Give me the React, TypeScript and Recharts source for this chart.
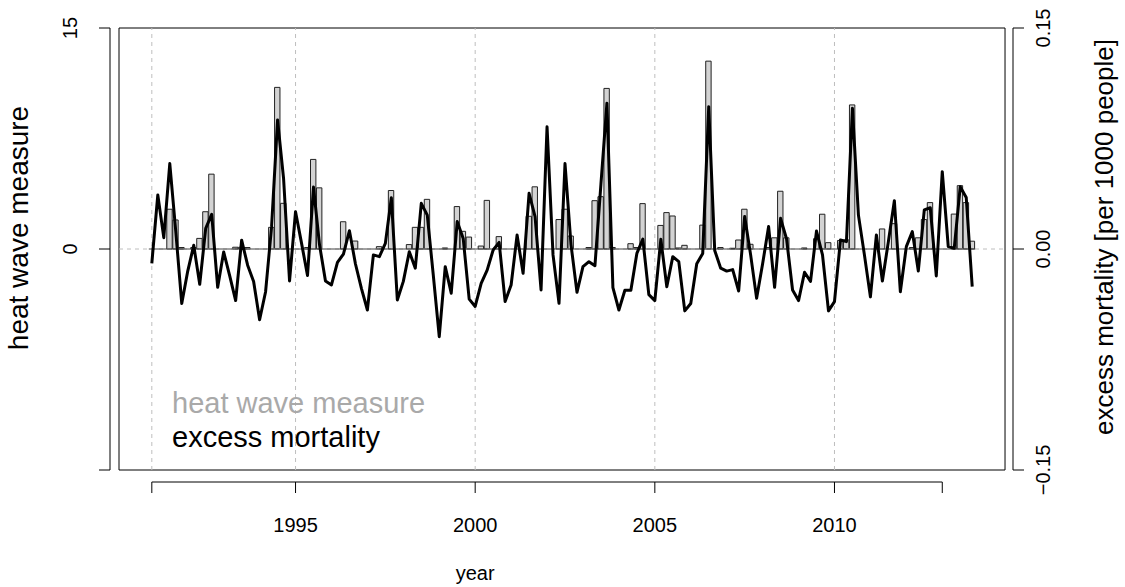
import React from 'react';
import {
  ComposedChart,
  Bar,
  Line,
  XAxis,
  YAxis,
  ReferenceLine,
  ReferenceArea,
  Legend,
} from 'recharts';

const FONT = '"Liberation Sans", Arial, Helvetica, sans-serif';

// Six monthly observations (April–September) for each summer
const years = [
  1991, 1992, 1993, 1994, 1995, 1996, 1997, 1998, 1999, 2000, 2001, 2002,
  2003, 2004, 2005, 2006, 2007, 2008, 2009, 2010, 2011, 2012, 2013,
];
const MONTHS_PER_YEAR = 6;

// heat wave measure, one row per year
const heatWave = [
  0, 0, 0, 2.7, 1.97, 0.1,
  0, 0.1, 0.72, 2.53, 5.08, 0,
  0, 0, 0.12, 0.12, 0.1, 0,
  0, 0, 1.47, 10.97, 3.1, 0,
  0, 0, 0.1, 6.08, 4.15, 0,
  0, 0, 1.85, 0, 0.54, 0,
  0, 0, 0.16, 0, 3.97, 0,
  0, 0.3, 1.47, 1.47, 3.37, 0,
  0, 0.07, 0, 2.88, 1.2, 0.81,
  0, 0.2, 3.3, 0, 0.84, 0,
  0, 0, 0, 2.22, 4.22, 0,
  0, 0, 2.0, 2.7, 0.88, 0,
  0, 0.1, 3.28, 3.55, 10.9, 0.1,
  0, 0, 0.36, 0.1, 3.08, 0,
  0, 1.6, 2.47, 2.24, 0.07, 0.25,
  0, 0, 1.62, 12.75, 0, 0.1,
  0, 0.05, 0.61, 2.7, 0.32, 0,
  0, 0.1, 0.76, 3.92, 0.76, 0,
  0, 0.07, 0, 0.7, 2.36, 0.43,
  0, 0.58, 0.62, 9.78, 0, 0,
  0, 0, 1.36, 0, 1.72, 0,
  0, 0.1, 0.76, 2.0, 3.15, 0,
  0, 0, 2.37, 4.3, 3.15, 0.53,
];

// excess mortality [per 1000 people], one row per year
const excessMortality = [
  -0.0097, 0.0367, 0.0077, 0.058, 0.012, -0.037,
  -0.015, 0.0025, -0.024, 0.014, 0.0235, -0.026,
  -0.002, -0.018, -0.035, 0.006, -0.011, -0.022,
  -0.048, -0.029, 0.015, 0.0876, 0.048, -0.0217,
  0.0253, 0.004, -0.018, 0.042, 0.003, -0.0217,
  -0.0244, -0.009, -0.0034, 0.0124, -0.01, -0.0267,
  -0.0414, -0.004, -0.0052, 0.0038, 0.0348, -0.0346,
  -0.022, -0.0018, -0.013, 0.031, 0.023, -0.0176,
  -0.0595, -0.012, -0.03, 0.0186, 0.0072, -0.034,
  -0.039, -0.0233, -0.0143, -0.0007, 0.0045, -0.0357,
  -0.0244, 0.0095, -0.0165, 0.0378, 0.022, -0.0278,
  0.083, -0.004, -0.0369, 0.058, 0.003, -0.0294,
  -0.012, -0.0086, -0.0113, 0.044, 0.099, -0.0262,
  -0.0414, -0.028, -0.028, -0.003, 0.0067, -0.031,
  -0.035, 0.0066, -0.0256, -0.0052, -0.0086, -0.042,
  -0.037, -0.01, -0.003, 0.0966, -0.001, -0.013,
  -0.015, -0.014, -0.0285, 0.022, -0.004, -0.0335,
  -0.01, 0.0152, -0.026, 0.0208, 0.0068, -0.0278,
  -0.035, -0.0158, -0.022, 0.0122, -0.004, -0.042,
  -0.0357, 0.0061, 0.005, 0.0955, 0.023, -0.004,
  -0.0325, 0.0095, -0.0217, 0.005, 0.0328, -0.029,
  0.0016, 0.0118, -0.0149, 0.0265, 0.028, -0.0183,
  0.0525, 0.0016, 0.0005, 0.0423, 0.035, -0.0256,
];

// axis ticks and labels
const yearTicks = [1991, 1995, 2000, 2005, 2010, 2013];
const yearLabels = ['', '1995', '2000', '2005', '2010', ''];
const gridYears = [1991, 1995, 2000, 2005, 2010];
const heatTicks = [-15, 0, 15];
const heatLabels = ['', '0', '15'];
const mortTicks = [-0.15, 0, 0.15];
const mortLabels = ['\u22120.15', '0.00', '0.15'];

const seriesNames = { heat: 'heat wave measure', mort: 'excess mortality' };
const legendColors: Record<string, string> = { heat: '#a9a9a9', mort: '#000000' };

const rows = heatWave.map((h, i) => ({
  t: years[Math.floor(i / MONTHS_PER_YEAR)] + (i % MONTHS_PER_YEAR) / MONTHS_PER_YEAR,
  heat: h,
  mort: excessMortality[i],
}));

// plotting region: data range widened by 4% on each side
const tFirst = rows[0].t;
const tLast = rows[rows.length - 1].t;
const tPad = 0.04 * (tLast - tFirst);
const frameLeft = tFirst - tPad;
const frameRight = tLast + tPad;
// axis lines sit slightly outside the frame
const xDomain = [frameLeft - 0.2505, frameRight + 0.222];
const halfSlot = 0.5 / MONTHS_PER_YEAR;

const YearTick = (props: any) => {
  const { x, y, index } = props;
  return (
    <g>
      <line x1={x} x2={x} y1={y + 12} y2={y + 23} stroke="#000" strokeWidth={1} />
      <text x={x} y={y + 62} textAnchor="middle" fontFamily={FONT} fontSize={20} fill="#000">
        {yearLabels[index]}
      </text>
    </g>
  );
};

const HeatTick = (props: any) => {
  const { y, index } = props;
  return (
    <text
      transform={`translate(77, ${y}) rotate(-90)`}
      textAnchor="middle"
      fontFamily={FONT}
      fontSize={20}
      fill="#000"
    >
      {heatLabels[index]}
    </text>
  );
};

const MortTick = (props: any) => {
  const { y, index } = props;
  return (
    <text
      transform={`translate(1050, ${y}) rotate(-90)`}
      textAnchor="middle"
      fontFamily={FONT}
      fontSize={20}
      fill="#000"
    >
      {mortLabels[index]}
    </text>
  );
};

const renderLegend = (props: any) => {
  const order = ['heat', 'mort'];
  const items = [...(props.payload || [])].sort(
    (a: any, b: any) => order.indexOf(a.dataKey) - order.indexOf(b.dataKey),
  );
  return (
    <div style={{ fontFamily: FONT, fontSize: 29, lineHeight: '34px', whiteSpace: 'nowrap' }}>
      {items.map((it: any) => (
        <div key={it.dataKey} style={{ color: legendColors[it.dataKey] }}>
          {it.value}
        </div>
      ))}
    </div>
  );
};

export default function App() {
  return (
    <div style={{ position: 'absolute', left: 0, top: 0, width: 1125, height: 587, background: '#fff' }}>
      <ComposedChart
        width={1125}
        height={587}
        data={rows}
        margin={{ top: 28, right: 0, bottom: 0, left: 0 }}
        barCategoryGap={0}
      >
        <XAxis
          dataKey="t"
          type="number"
          domain={xDomain}
          allowDataOverflow
          ticks={yearTicks}
          interval={0}
          height={117}
          axisLine={false}
          tickLine={false}
          tickSize={0}
          tickMargin={0}
          tick={<YearTick />}
        />
        <YAxis
          yAxisId="heat"
          orientation="left"
          width={110}
          domain={[-15, 15]}
          allowDataOverflow
          ticks={heatTicks}
          interval={0}
          tickSize={11}
          axisLine={{ stroke: '#000', strokeWidth: 1 }}
          tickLine={{ stroke: '#000', strokeWidth: 1 }}
          tick={<HeatTick />}
          label={{
            content: () => (
              <text
                transform="translate(28, 228) rotate(-90)"
                textAnchor="middle"
                fontFamily={FONT}
                fontSize={28}
                fill="#000"
              >
                heat wave measure
              </text>
            ),
          }}
        />
        <YAxis
          yAxisId="mort"
          orientation="right"
          width={112}
          domain={[-0.15, 0.15]}
          allowDataOverflow
          ticks={mortTicks}
          interval={0}
          tickSize={11}
          axisLine={{ stroke: '#000', strokeWidth: 1 }}
          tickLine={{ stroke: '#000', strokeWidth: 1 }}
          tick={<MortTick />}
          label={{
            content: () => (
              <text
                transform="translate(1113, 237) rotate(-90)"
                textAnchor="middle"
                fontFamily={FONT}
                fontSize={26}
                fill="#000"
              >
                excess mortality [per 1000 people]
              </text>
            ),
          }}
        />

        {/* plot frame */}
        <ReferenceArea
          yAxisId="heat"
          x1={frameLeft}
          x2={frameRight}
          y1={-15}
          y2={15}
          fill="none"
          stroke="#000"
          strokeWidth={1}
          ifOverflow="visible"
        />

        {/* dashed guides */}
        {gridYears.map((yr) => (
          <ReferenceLine
            key={yr}
            yAxisId="heat"
            x={yr}
            stroke="#bebebe"
            strokeWidth={1}
            strokeDasharray="4 4"
            label={
              yr === 2000
                ? {
                    content: (p: any) => (
                      <text
                        x={p.viewBox.x}
                        y={p.viewBox.y + p.viewBox.height + 110}
                        textAnchor="middle"
                        fontFamily={FONT}
                        fontSize={20}
                        fill="#000"
                      >
                        year
                      </text>
                    ),
                  }
                : undefined
            }
          />
        ))}
        <ReferenceLine
          yAxisId="heat"
          segment={[
            { x: frameLeft, y: 0 },
            { x: frameRight, y: 0 },
          ]}
          stroke="#bebebe"
          strokeWidth={1}
          strokeDasharray="4 4"
        />

        {/* bottom axis line between first and last tick */}
        <ReferenceLine
          yAxisId="heat"
          segment={[
            { x: yearTicks[0], y: -15 },
            { x: yearTicks[yearTicks.length - 1], y: -15 },
          ]}
          ifOverflow="visible"
          shape={(p: any) => (
            <line x1={p.x1} y1={p.y1 + 12} x2={p.x2} y2={p.y2 + 12} stroke="#000" strokeWidth={1} />
          )}
        />

        <Bar
          yAxisId="heat"
          dataKey="heat"
          name={seriesNames.heat}
          fill="#d3d3d3"
          stroke="#222"
          strokeWidth={1}
          barSize={6}
          isAnimationActive={false}
        />
        {/* baseline of the bars */}
        <ReferenceLine
          yAxisId="heat"
          segment={[
            { x: tFirst - halfSlot, y: 0 },
            { x: tLast + halfSlot, y: 0 },
          ]}
          stroke="#444"
          strokeWidth={1}
        />
        <Line
          yAxisId="mort"
          dataKey="mort"
          name={seriesNames.mort}
          type="linear"
          stroke="#000"
          strokeWidth={3}
          strokeLinejoin="round"
          dot={false}
          isAnimationActive={false}
        />
        <Legend
          layout="vertical"
          align="center"
          verticalAlign="middle"
          content={renderLegend}
          wrapperStyle={{ left: 172, top: 386, width: 400, height: 70 }}
        />
      </ComposedChart>
    </div>
  );
}
